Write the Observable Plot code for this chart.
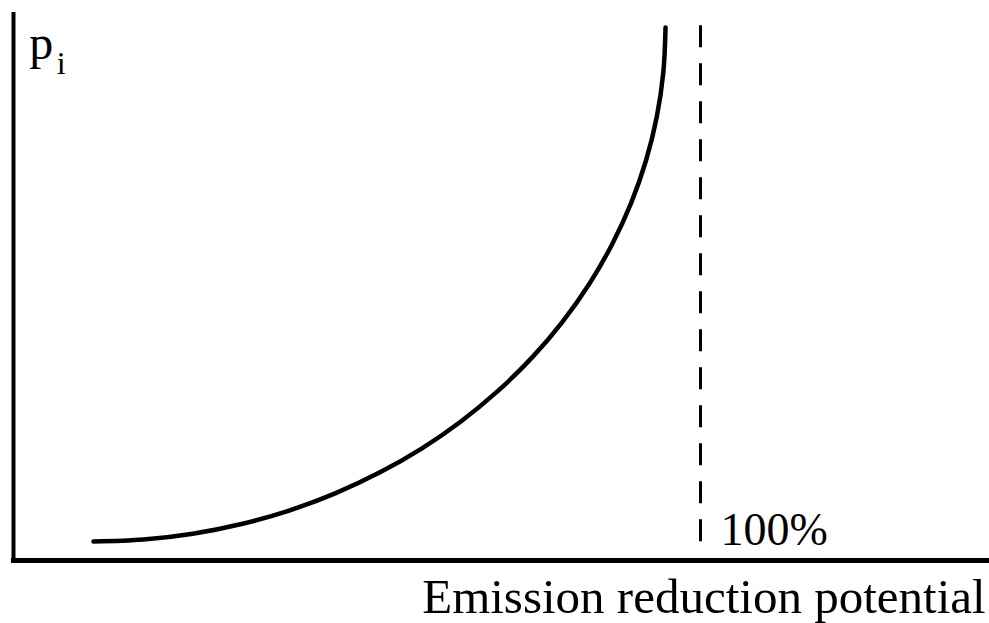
<!DOCTYPE html>
<html>
<head>
<meta charset="utf-8">
<script src="https://cdn.jsdelivr.net/npm/d3@7"></script>
<script src="https://cdn.jsdelivr.net/npm/@observablehq/plot@0.6"></script>
<style>
  html, body { margin: 0; padding: 0; background: #fff; }
  svg { display: block; }
</style>
</head>
<body>
<div id="chart"></div>
<script>
// Emission reduction potential (% of full potential) vs marginal cost p_i (arbitrary units)
const reduction = [11.64, 18.91, 26.10, 33.19, 40.12, 46.83, 53.28, 59.40, 65.17, 70.52, 75.43, 79.85, 83.76, 87.10, 89.88, 92.07, 93.64, 94.59, 94.91];
const cost      = [3.47, 3.83, 4.89, 6.66, 9.12, 12.26, 16.04, 20.42, 25.42, 30.95, 36.97, 43.47, 50.36, 57.63, 65.18, 72.99, 80.97, 89.09, 97.26];
const fullPotential = 100;
const yLabel = "p";
const yLabelSub = "i";
const xLabel = "Emission reduction potential";
const limitLabel = "100%";

const curve = reduction.map((x, i) => ({x, y: cost[i]}));

const font = "'Liberation Serif', 'Times New Roman', serif";

const chart = Plot.plot({
  width: 989,
  height: 623,
  margin: 0,
  style: {background: "#fff", fontFamily: font, color: "#000"},
  x: {domain: [0, 100], range: [13, 700], axis: null},
  y: {domain: [0, 100], range: [560, 12], axis: null},
  marks: [
    // axes
    Plot.ruleX([0], {y1: -0.55, y2: 100, stroke: "#000", strokeWidth: 4}),
    Plot.ruleY([0], {x1: -0.3, x2: 142.2, stroke: "#000", strokeWidth: 5}),
    // 100% limit
    Plot.ruleX([fullPotential], {y1: 97.6, y2: 0.5, stroke: "#000", strokeWidth: 3, strokeDasharray: "22,16"}),
    // cost curve
    Plot.line(curve, {x: "x", y: "y", curve: "catmull-rom", stroke: "#000", strokeWidth: 4.5, strokeLinecap: "round"}),
    // labels
    Plot.text([yLabel], {x: 2.3, y: (560 - 58) / 5.48, text: d => d, textAnchor: "start", lineAnchor: "bottom", fontSize: 48, fill: "#000"}),
    Plot.text([yLabelSub], {x: 6.3, y: (560 - 73) / 5.48, text: d => d, textAnchor: "start", lineAnchor: "bottom", fontSize: 32, fill: "#000"}),
    Plot.text([limitLabel], {x: 102.9, y: (560 - 544) / 5.48, text: d => d, textAnchor: "start", lineAnchor: "bottom", fontSize: 46, fill: "#000"}),
    Plot.text([xLabel], {x: 141.5, y: (560 - 612) / 5.48, text: d => d, textAnchor: "end", lineAnchor: "bottom", fontSize: 49, fill: "#000"})
  ]
});
document.getElementById("chart").append(chart);
</script>
</body>
</html>
